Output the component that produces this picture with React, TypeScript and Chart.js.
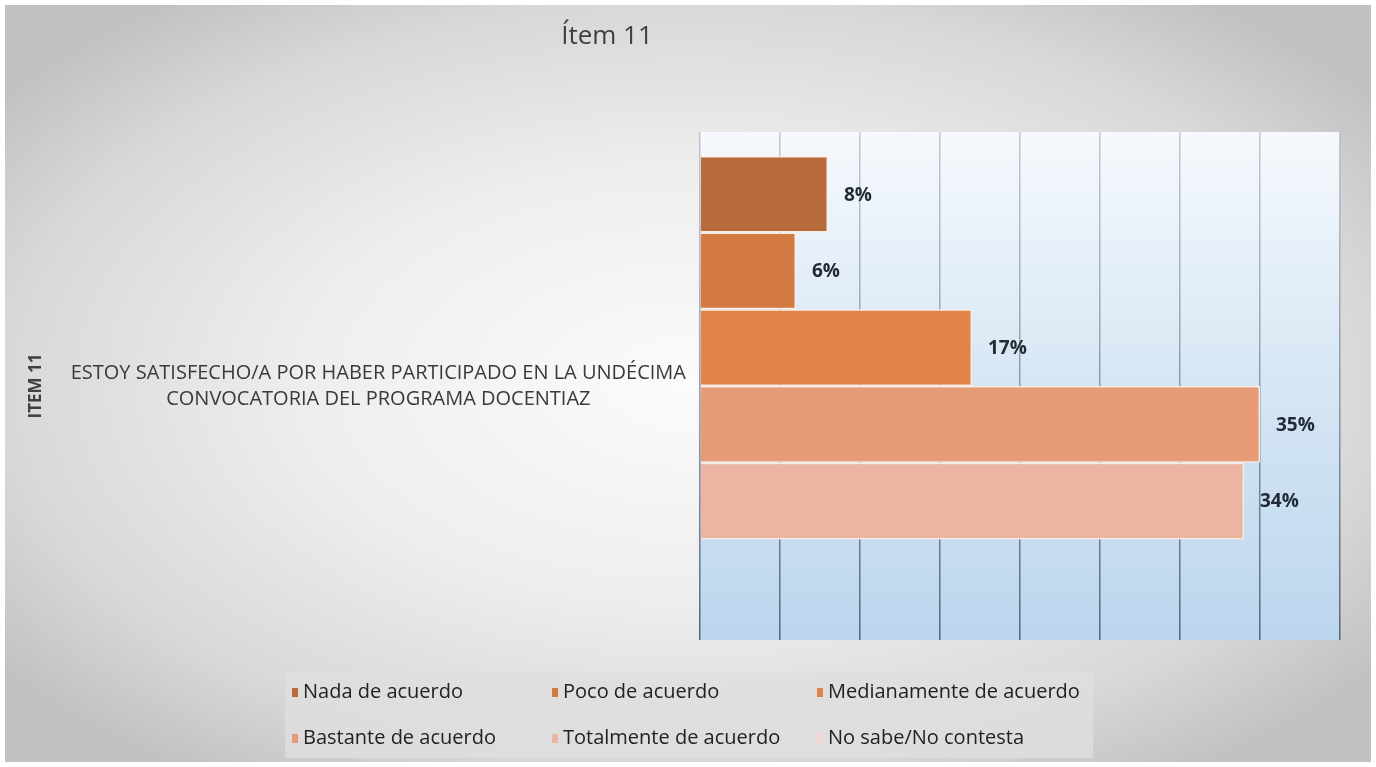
import React, { useEffect, useRef } from 'react';
import { Chart, registerables } from 'chart.js';

Chart.register(...registerables);

const TITLE = 'Ítem 11';
const AXIS_TITLE = 'ITEM 11';
const CATEGORIES = [
  ['ESTOY SATISFECHO/A POR HABER PARTICIPADO EN LA UNDÉCIMA', 'CONVOCATORIA DEL PROGRAMA DOCENTIAZ'],
];
const SERIES_NAMES = [
  'Nada de acuerdo',
  'Poco de acuerdo',
  'Medianamente de acuerdo',
  'Bastante de acuerdo',
  'Totalmente de acuerdo',
  'No sabe/No contesta',
];
const SERIES_VALUES = [8, 6, 17, 35, 34, 0];
const SERIES_COLORS = ['#b76a3c', '#d27a42', '#e28348', '#e79a76', '#ebb4a3', '#f4d6cc'];
const X_MIN = 0;
const X_MAX = 40;
const X_STEP = 5;

const FONT = '"Open Sans", "DejaVu Sans", sans-serif';

const backgroundPlugin = {
  id: 'bgPlugin',
  beforeDraw(chart: any) {
    const { ctx, width, height, chartArea } = chart;
    ctx.save();
    ctx.fillStyle = '#ffffff';
    ctx.fillRect(0, 0, width, height);
    const cx = width / 2;
    const cy = height / 2;
    ctx.save();
    ctx.beginPath();
    ctx.rect(5, 5, width - 10, height - 10);
    ctx.clip();
    ctx.translate(cx, cy);
    ctx.scale(1, height / width);
    const g = ctx.createRadialGradient(0, 0, 0, 0, 0, width * 0.62);
    g.addColorStop(0, '#fbfbfb');
    g.addColorStop(0.45, '#eeeeee');
    g.addColorStop(0.8, '#d8d8d8');
    g.addColorStop(1, '#c2c2c2');
    ctx.fillStyle = g;
    ctx.fillRect(-cx, -width / 2, width, width);
    ctx.restore();
    const pg = ctx.createLinearGradient(0, chartArea.top, 0, chartArea.bottom);
    pg.addColorStop(0, '#f6f9fd');
    pg.addColorStop(0.5, '#d6e6f4');
    pg.addColorStop(1, '#bcd6ee');
    ctx.fillStyle = pg;
    ctx.fillRect(chartArea.left, chartArea.top, chartArea.right - chartArea.left, chartArea.bottom - chartArea.top);
    ctx.restore();
  },
};

const titlePlugin = {
  id: 'customTitle',
  afterDraw(chart: any) {
    const { ctx } = chart;
    ctx.save();
    ctx.font = `26px ${FONT}`;
    ctx.fillStyle = '#404040';
    ctx.textAlign = 'center';
    ctx.textBaseline = 'middle';
    ctx.fillText(TITLE, 607, 37);
    ctx.restore();
  },
};

const dataLabelPlugin = {
  id: 'dataLabels',
  afterDatasetsDraw(chart: any) {
    const { ctx } = chart;
    ctx.save();
    ctx.font = `bold 19px ${FONT}`;
    ctx.fillStyle = '#232b36';
    ctx.textAlign = 'left';
    ctx.textBaseline = 'middle';
    chart.data.datasets.forEach((ds: any, i: number) => {
      const meta = chart.getDatasetMeta(i);
      meta.data.forEach((el: any, j: number) => {
        const v = ds.data[j];
        if (!v) return;
        ctx.fillText(`${v}%`, el.x + 16, el.y + 1);
      });
    });
    ctx.restore();
  },
};

const legendPlugin = {
  id: 'gridLegend',
  afterDraw(chart: any) {
    const { ctx } = chart;
    const boxX = 285;
    const boxY = 672;
    const boxW = 808;
    const boxH = 86;
    ctx.save();
    ctx.fillStyle = 'rgba(222,222,222,0.8)';
    ctx.fillRect(boxX, boxY, boxW, boxH);
    const colX = [292, 552, 817];
    const rowY = [692, 738];
    ctx.font = `20px ${FONT}`;
    ctx.textAlign = 'left';
    ctx.textBaseline = 'middle';
    chart.data.datasets.forEach((ds: any, i: number) => {
      const x = colX[i % 3];
      const y = rowY[Math.floor(i / 3)];
      ctx.fillStyle = ds.backgroundColor;
      ctx.fillRect(x, y - 4, 6, 9);
      ctx.fillStyle = '#222222';
      ctx.fillText(ds.label, x + 11, y);
    });
    ctx.restore();
  },
};

export default function App() {
  const canvasRef = useRef<HTMLCanvasElement | null>(null);

  useEffect(() => {
    if (!canvasRef.current) return;
    Chart.defaults.font.family = FONT;
    const datasets = SERIES_NAMES.map((name, i) => ({
      label: name,
      data: [SERIES_VALUES[i]],
      backgroundColor: SERIES_COLORS[i],
      borderColor: 'rgba(255,236,226,0.95)',
      borderWidth: SERIES_VALUES[i] ? 1.5 : 0,
      borderSkipped: 'start',
      barPercentage: 1,
      categoryPercentage: 0.906,
    }));
    const chart = new Chart(canvasRef.current, {
      type: 'bar',
      data: { labels: CATEGORIES, datasets },
      options: {
        indexAxis: 'y',
        responsive: false,
        animation: false,
        devicePixelRatio: 1,
        layout: { padding: { top: 132, bottom: 127, left: 22, right: 36 } },
        plugins: {
          legend: { display: false },
          title: { display: false },
          tooltip: { enabled: false },
        },
        scales: {
          x: {
            min: X_MIN,
            max: X_MAX,
            ticks: { display: false, stepSize: X_STEP },
            border: { display: false },
            grid: {
              drawTicks: false,
              lineWidth: 1.5,
              color: (c: any) => {
                const area = c.chart.chartArea;
                if (!area) return '#8a9aaa';
                const g = c.chart.ctx.createLinearGradient(0, area.top, 0, area.bottom);
                g.addColorStop(0, 'rgba(160,170,182,0.6)');
                g.addColorStop(1, 'rgba(80,95,112,0.95)');
                return g;
              },
            },
          },
          y: {
            grid: { display: false, drawTicks: false },
            border: { display: false },
            ticks: {
              crossAlign: 'center',
              padding: 14,
              color: '#3a3a3a',
              font: { size: 20, lineHeight: 1.3 },
            },
            title: {
              display: true,
              text: AXIS_TITLE,
              color: '#404040',
              font: { size: 17, weight: 'bold' },
            },
            afterFit: (scale: any) => {
              scale.width = 678;
            },
          },
        },
      },
      plugins: [backgroundPlugin, dataLabelPlugin, titlePlugin, legendPlugin],
    } as any);
    return () => chart.destroy();
  }, []);

  return (
    <div style={{ position: 'fixed', left: 0, top: 0, width: 1376, height: 767 }}>
      <canvas ref={canvasRef} width={1376} height={767} style={{ display: 'block' }} />
    </div>
  );
}
